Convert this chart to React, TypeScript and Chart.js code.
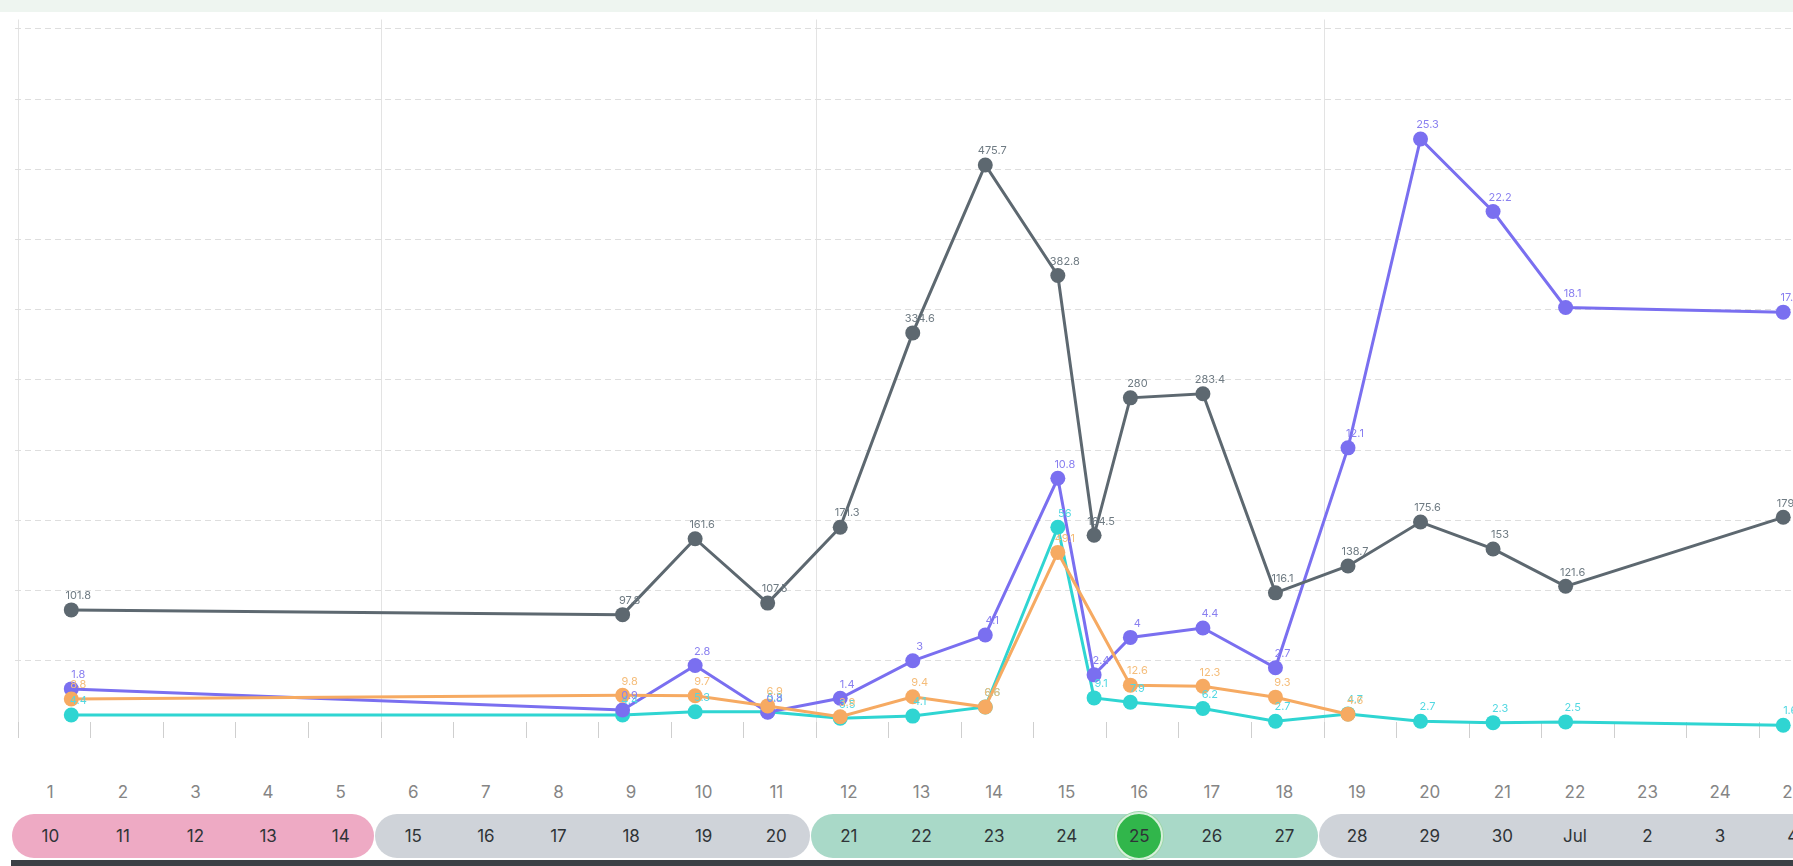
import React, { useEffect, useRef } from 'react';
import { Chart, registerables } from 'chart.js';

Chart.register(...registerables);

// ---------- data ----------
const dayX = [1.4, 9, 10, 11, 12, 13, 14, 15, 15.5, 16, 17, 18, 19, 20, 21, 22, 25];
const grayValues = [101.8, 97.8, 161.6, 107.5, 171.3, 334.6, 475.7, 382.8, 164.5, 280, 283.4, 116.1, 138.7, 175.6, 153, 121.6, 179.6];
const purpleValues = [1.8, 0.9, 2.8, 0.8, 1.4, 3, 4.1, 10.8, 2.4, 4, 4.4, 2.7, 12.1, 25.3, 22.2, 18.1, 17.9];
const orangeX = [1.4, 9, 10, 11, 12, 13, 14, 15, 16, 17, 18, 19];
const orangeValues = [8.8, 9.8, 9.7, 6.9, 3.9, 9.4, 6.6, 49.1, 12.6, 12.3, 9.3, 4.6];
const cyanValues = [4.4, 4.4, 5.3, 5.3, 3.5, 4.1, 6.6, 56, 9.1, 7.9, 6.2, 2.7, 4.7, 2.7, 2.3, 2.5, 1.6];

const topLabels = ['1', '2', '3', '4', '5', '6', '7', '8', '9', '10', '11', '12', '13', '14', '15', '16', '17', '18', '19', '20', '21', '22', '23', '24', '25'];
const dateLabels = ['10', '11', '12', '13', '14', '15', '16', '17', '18', '19', '20', '21', '22', '23', '24', '25', '26', '27', '28', '29', '30', 'Jul', '2', '3', '4'];
const weekGroupSizes = [5, 6, 7, 7];
const highlightIndex = 15;

// ---------- layout ----------
const COL0 = 14;
const COL_W = 72.6;
const CANVAS_W = 1900;
const CANVAS_H = 726;
const CANVAS_TOP = 12;
const PAD_LEFT = 15;
// page-pixel calibration of the chart scales
const DAY_REF = 15.5;
const DAY_REF_PX = 1094.1;
const DAY_PX = 72.54;
const ZERO_PY = 731;
const GRID_PX = 70.2;
const TICK0 = 0.67;
const GRAY_STEP = 59;
const PURPLE_STEP = 3;
const ORANGE_STEP = 19.3;
const weekColors = ['#eeaac4', '#cfd3d9', '#a9d9c8', '#cfd3d9'];

const FONT = 'Inter, "Noto Sans", sans-serif';

const pts = (xs: number[], ys: number[]) => xs.map((x, i) => ({ x, y: ys[i] }));

const valueLabels = {
  id: 'valueLabels',
  afterDatasetsDraw(chart: any) {
    const ctx = chart.ctx;
    const n = chart.data.datasets.length;
    for (let i = n - 1; i >= 0; i--) {
      const ds = chart.data.datasets[i];
      const meta = chart.getDatasetMeta(i);
      ctx.save();
      ctx.font = '11px ' + FONT;
      ctx.fillStyle = ds.labelColor;
      ctx.textAlign = 'center';
      ctx.textBaseline = 'middle';
      meta.data.forEach((p: any, j: number) => {
        ctx.fillText(String(ds.data[j].y), p.x + 7, p.y - 14);
      });
      ctx.restore();
    }
  },
};

function LineChart() {
  const ref = useRef<HTMLCanvasElement | null>(null);
  useEffect(() => {
    if (!ref.current) return;
    const boundaries = [0, 5, 11, 18];
    const mk = (label: string, data: any[], color: string, labelColor: string, axis: string) => ({
      label,
      data,
      borderColor: color,
      backgroundColor: color,
      pointBackgroundColor: color,
      pointBorderWidth: 0,
      pointRadius: 7.5,
      borderWidth: 3,
      tension: 0,
      clip: false,
      yAxisID: axis,
      labelColor,
    });
    const options: any = {
      animation: false,
      responsive: false,
      devicePixelRatio: 1,
      layout: { padding: { left: PAD_LEFT, right: 0, top: 0, bottom: 0 } },
      plugins: { legend: { display: false }, tooltip: { enabled: false } },
      scales: {
        x: {
          type: 'linear',
          min: 0.6,
          max: 26.6,
          afterBuildTicks: (s: any) => {
            s.ticks = Array.from({ length: 27 }, (_, i) => ({ value: TICK0 + i }));
          },
          ticks: { display: false },
          grid: {
            color: (c: any) => (boundaries.includes(c.index) ? '#e3e3e3' : 'rgba(0,0,0,0)'),
            tickColor: '#cfcfcf',
            tickLength: 16,
            lineWidth: 1,
          },
          border: { display: false },
        },
        g: {
          position: 'left',
          min: 0.13,
          max: 10.24,
          afterBuildTicks: (s: any) => {
            s.ticks = Array.from({ length: 10 }, (_, i) => ({ value: i + 1 }));
          },
          ticks: { display: false },
          grid: { color: '#dedede', drawTicks: false, lineWidth: 1 },
          border: { display: false, dash: [6, 4] },
        },
        yG: { display: false, min: 0, max: 600 },
        yP: { display: false, min: 0, max: 30 },
        yO: { display: false, min: 0, max: 190 },
      },
    };
    const chart = new Chart(ref.current, {
      type: 'line',
      data: {
        datasets: [
          mk('gray', pts(dayX, grayValues), '#5d6870', '#6f7b83', 'yG'),
          mk('orange', pts(orangeX, orangeValues), '#f6aa62', '#f5bd7a', 'yO'),
          mk('purple', pts(dayX, purpleValues), '#7a6ff0', '#8a80f0', 'yP'),
          mk('cyan', pts(dayX, cyanValues), '#2fd5d2', '#52d8e2', 'yO'),
        ] as any,
      },
      options,
      plugins: [valueLabels],
    });
    // calibrate scales against the real chart area
    const a = chart.chartArea;
    const dayAt = (px: number) => DAY_REF + (px - DAY_REF_PX) / DAY_PX;
    const gridAt = (py: number) => (ZERO_PY - (py + CANVAS_TOP)) / GRID_PX;
    const s = (chart.options as any).scales;
    s.x.min = dayAt(a.left);
    s.x.max = dayAt(a.right);
    const gMin = gridAt(a.bottom);
    const gMax = gridAt(a.top);
    s.g.min = gMin;
    s.g.max = gMax;
    s.yG.min = gMin * GRAY_STEP;
    s.yG.max = gMax * GRAY_STEP;
    s.yP.min = gMin * PURPLE_STEP;
    s.yP.max = gMax * PURPLE_STEP;
    s.yO.min = gMin * ORANGE_STEP;
    s.yO.max = gMax * ORANGE_STEP;
    chart.update();
    return () => chart.destroy();
  }, []);
  return (
    <canvas
      ref={ref}
      width={CANVAS_W}
      height={CANVAS_H}
      style={{ position: 'absolute', left: 0, top: CANVAS_TOP, width: CANVAS_W, height: CANVAS_H }}
    />
  );
}

export default function App() {
  let start = 0;
  const groups = weekGroupSizes.map((n, gi) => {
    const g = { start, n, color: weekColors[gi] };
    start += n;
    return g;
  });
  return (
    <div
      style={{
        position: 'fixed',
        left: 0,
        top: 0,
        width: '100vw',
        height: '100vh',
        overflow: 'hidden',
        background: '#ffffff',
        fontFamily: FONT,
      }}
    >
      <div style={{ position: 'absolute', left: 0, top: 0, width: '100%', height: 12, background: '#eef5f0' }} />
      <LineChart />
      {topLabels.map((t, i) => (
        <div
          key={'t' + i}
          style={{
            position: 'absolute',
            left: COL0 + i * COL_W,
            width: COL_W,
            top: 781,
            height: 22,
            lineHeight: '22px',
            textAlign: 'center',
            fontSize: 17,
            color: '#858585',
          }}
        >
          {t}
        </div>
      ))}
      {groups.map((g, i) => (
        <div
          key={'g' + i}
          style={{
            position: 'absolute',
            left: COL0 + g.start * COL_W - 2,
            width: g.n * COL_W - 1,
            top: 814,
            height: 44,
            borderRadius: 22,
            background: g.color,
          }}
        />
      ))}
      <div
        style={{
          position: 'absolute',
          left: COL0 + (highlightIndex + 0.5) * COL_W - 24,
          top: 812,
          width: 44,
          height: 44,
          borderRadius: '50%',
          background: '#31b64b',
          border: '2px solid #d6f0da',
          boxShadow: '0 0 0 1px #9dd6a9',
        }}
      />
      {dateLabels.map((t, i) => (
        <div
          key={'d' + i}
          style={{
            position: 'absolute',
            left: COL0 + i * COL_W,
            width: COL_W,
            top: 825,
            height: 22,
            lineHeight: '22px',
            textAlign: 'center',
            fontSize: 17,
            color: '#2f3437',
          }}
        >
          {t}
        </div>
      ))}
      <div style={{ position: 'absolute', left: 11, top: 860, width: 1800, height: 6, background: '#3b4045' }} />
    </div>
  );
}
